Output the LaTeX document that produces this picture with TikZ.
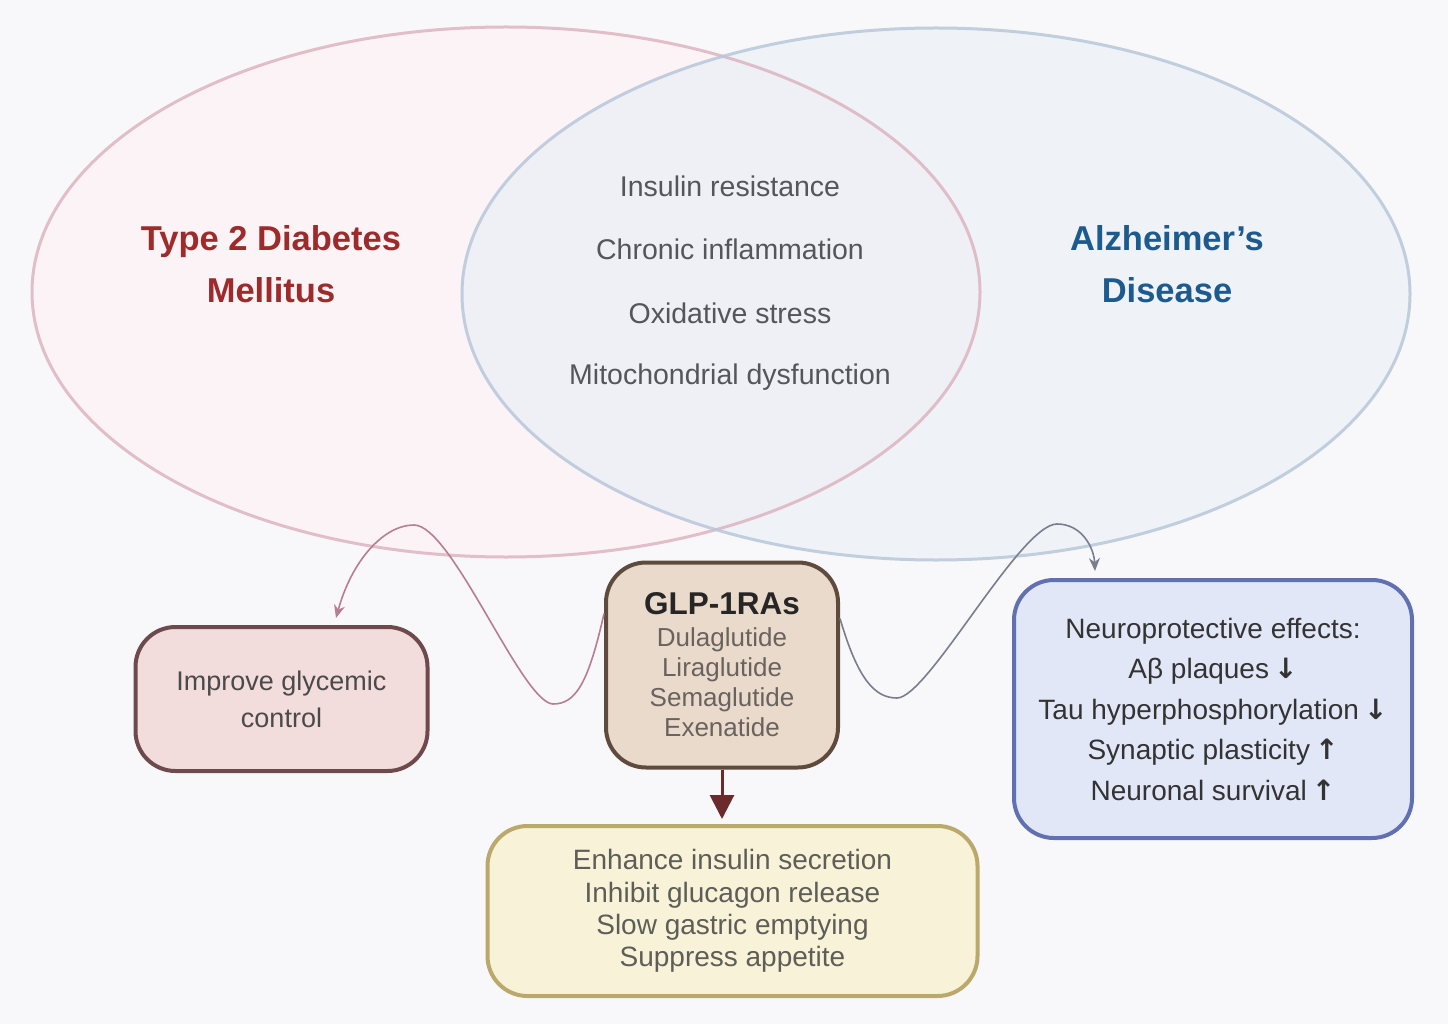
\documentclass[tikz,border=0pt]{standalone}
\usepackage{fontspec}
\setmainfont{Liberation Sans}
\newfontfamily\symf{DejaVu Sans}
\usetikzlibrary{shapes.geometric,arrows.meta,calc}
\definecolor{bgc}{HTML}{F8F8FA}
\definecolor{ellL}{HTML}{DDB5C0}
\definecolor{ellLf}{HTML}{FBF3F5}
\definecolor{ellR}{HTML}{B7C7DA}
\definecolor{ellRf}{HTML}{ECF0F7}
\definecolor{glyf}{HTML}{F3DCDC}
\definecolor{glyd}{HTML}{6E4A4C}
\definecolor{glpf}{HTML}{E9DACB}
\definecolor{glpd}{HTML}{5F4A3E}
\definecolor{neuf}{HTML}{E2E7F7}
\definecolor{neud}{HTML}{6070B0}
\definecolor{yelf}{HTML}{F8F2D8}
\definecolor{yeld}{HTML}{BBA96B}
\definecolor{pinkc}{HTML}{B77D93}
\definecolor{grayc}{HTML}{7A7D8E}
\definecolor{darkc}{HTML}{6B2B2B}
\definecolor{redt}{HTML}{9E2B2B}
\definecolor{bluet}{HTML}{1D5A8E}
\definecolor{midt}{HTML}{55555B}
\definecolor{boxt}{HTML}{4A4A4A}
\definecolor{glpt}{HTML}{6A625E}
\definecolor{yelt}{HTML}{5E5E58}
\newcommand{\dnar}{\hspace{5pt}{\symf\bfseries ↓}}
\newcommand{\upar}{\hspace{5pt}{\symf\bfseries ↑}}
\tikzset{
  venn/.style={ellipse, minimum width=948pt, minimum height=530pt, inner sep=0pt},
  midtext/.style={text=midt, font=\fontsize{28.5}{30}\selectfont},
  head/.style={align=center, font=\bfseries\fontsize{34.5}{52}\selectfont},
  rbox/.style={rounded corners=40pt, line width=4pt, inner sep=0pt, align=center},
  wave/.style={line width=1.6pt, -{Stealth[length=13pt,width=11pt]}}
}
\begin{document}
\begin{tikzpicture}[x=1pt,y=-1pt]
\fill[bgc] (0,0) rectangle (1448,1024);
\useasboundingbox (0,0) rectangle (1448,1024);
% Venn ellipses
\node[venn, fill=ellLf] (dm) at (506,292) {};
\node[venn, fill=ellRf, fill opacity=0.75] (ad) at (936,294) {};
\draw[ellL, line width=3pt, opacity=0.85] (506,292) ellipse [x radius=474, y radius=265];
\draw[ellR, line width=3pt, opacity=0.85] (936,294) ellipse [x radius=474, y radius=266];
% headings
\node[head, text=redt] (dmt) at (271,264) {Type 2 Diabetes\\Mellitus};
\node[head, text=bluet] (adt) at (1167,264) {Alzheimer's\\Disease};
% shared features
\node[midtext] (m1) at (730,186) {Insulin resistance};
\node[midtext] (m2) at (730,249) {Chronic inflammation};
\node[midtext] (m3) at (730,313) {Oxidative stress};
\node[midtext] (m4) at (730,377) {Mitochondrial dysfunction};
% boxes
\node[rbox, draw=glyd, fill=glyf, minimum width=292pt, minimum height=144pt, text=boxt,
      font=\fontsize{27}{37}\selectfont] (gly) at (281.5,699) {Improve glycemic\\control};
\node[rbox, draw=glpd, fill=glpf, minimum width=232pt, minimum height=205pt,
      font=\fontsize{26}{30}\selectfont, text=glpt] (glp) at (722,665)
  {\textcolor{black!85}{\bfseries\fontsize{31.5}{33}\selectfont GLP-1RAs}\\[2pt]
   Dulaglutide\\Liraglutide\\Semaglutide\\Exenatide};
\node[rbox, draw=neud, fill=neuf, minimum width=398pt, minimum height=258pt, text=black!80,
      font=\fontsize{28}{40.5}\selectfont] (neu) at (1213,709)
  {Neuroprotective effects:\\
   Aβ plaques\dnar\\
   Tau hyperphosphorylation\dnar\\
   Synaptic plasticity\upar\\
   Neuronal survival\upar};
\node[rbox, draw=yeld, fill=yelf, minimum width=490pt, minimum height=170pt, text=yelt,
      font=\fontsize{28}{32.3}\selectfont] (yel) at (732.5,911)
  {Enhance insulin secretion\\Inhibit glucagon release\\Slow gastric emptying\\Suppress appetite};
% connectors
\coordinate (p0) at ($(glp.north west)+(0,53)$);
\coordinate (p1) at ($(gly.north)+(54.5,-7)$);
\draw[wave, pinkc] (p0) .. controls (588,685) and (575,704) .. (553,704)
   .. controls (522,703) and (452,525) .. (414,525)
   .. controls (384,525) and (352,560) .. (p1);
\coordinate (q0) at ($(glp.north east)+(0,58)$);
\coordinate (q1) at ($(neu.north west)+(83,-7)$);
\draw[wave, grayc] (q0) .. controls (858,680) and (875,698) .. (897,698)
   .. controls (928,698) and (1020,524) .. (1057,524)
   .. controls (1082,524) and (1094,548) .. (q1);
\draw[darkc, line width=3pt, -{Triangle[length=24pt,width=24pt]}, shorten >=5pt] (glp.south) -- (glp.south |- yel.north);
\end{tikzpicture}
\end{document}
